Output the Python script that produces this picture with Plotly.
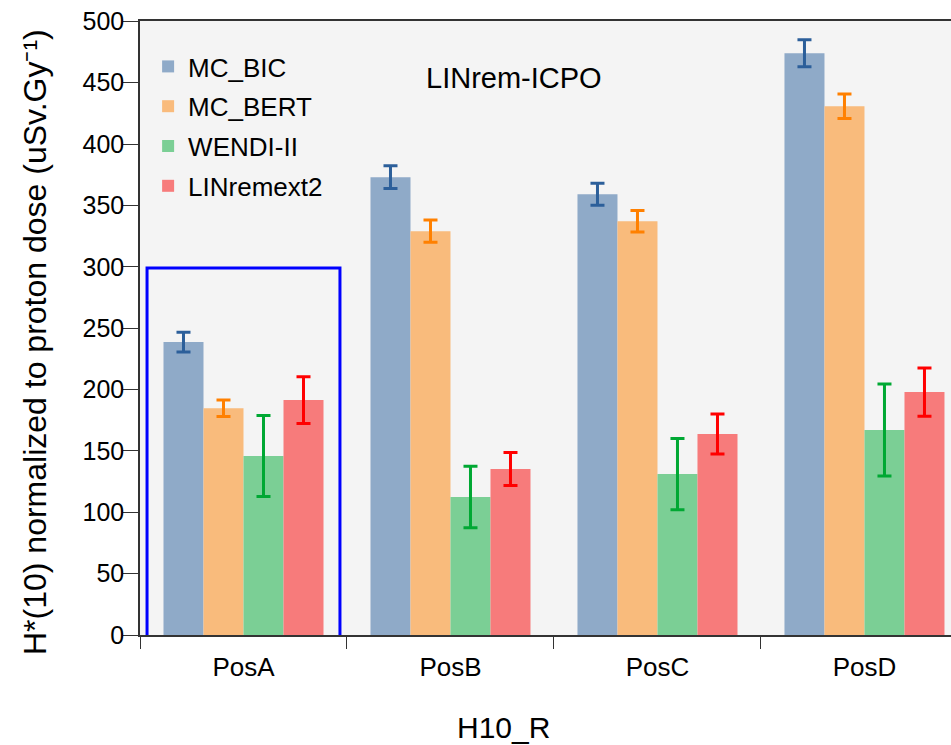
import plotly.graph_objects as go

categories = ["PosA", "PosB", "PosC", "PosD"]
series_names = ["MC_BIC", "MC_BERT", "WENDI-II", "LINremext2"]
mc_bic = [238.6, 373.0, 359.1, 474.0]
mc_bic_err = [8.0, 9.3, 9.0, 11.0]
mc_bert = [184.8, 329.0, 337.1, 430.8]
mc_bert_err = [6.7, 9.0, 8.8, 10.0]
wendi = [145.8, 112.4, 131.1, 167.0]
wendi_err = [33.0, 25.0, 29.0, 37.5]
linremext2 = [191.4, 135.2, 163.7, 197.9]
linremext2_err = [19.0, 13.5, 16.3, 19.7]
y_ticks = [0, 50, 100, 150, 200, 250, 300, 350, 400, 450, 500]

values = [mc_bic, mc_bert, wendi, linremext2]
errors = [mc_bic_err, mc_bert_err, wendi_err, linremext2_err]
bar_colors = ["#8FAAC8", "#F9BB7C", "#7BCF95", "#F77B7B"]
err_colors = ["#2C5F9A", "#FF8000", "#00A833", "#FF0000"]

FONT = "Liberation Sans, Arial, sans-serif"

PL, PR, PT, PB = 140, 951, 21, 635  # plot area in page pixels

fig = go.Figure()
for i, name in enumerate(series_names):
    fig.add_trace(go.Bar(
        x=categories, y=values[i], name=name,
        marker=dict(color=bar_colors[i], line=dict(width=0)),
        error_y=dict(type="data", array=errors[i], visible=True,
                     color=err_colors[i], thickness=3, width=7),
        legendgroup=name,
    ))

W = PR - PL
H = PB - PT
def px(xp):
    return (xp - PL) / W
def py(yp):
    return (PB - yp) / H

fig.update_layout(
    width=951, height=745,
    margin=dict(l=PL, r=951 - PR, t=PT, b=745 - PB),
    paper_bgcolor="white",
    plot_bgcolor="#F4F4F4",
    barmode="group",
    bargap=0.227,
    bargroupgap=0,
    font=dict(family=FONT, color="black", size=25),
    showlegend=True,
    legend=dict(x=0.01, y=py(43), xanchor="left", yanchor="top",
                bgcolor="rgba(0,0,0,0)", font=dict(size=26),
                tracegroupgap=3, traceorder="grouped"),
    xaxis=dict(range=[-0.5, 3.418], showgrid=False, showline=True,
               linecolor="#333333", linewidth=1.5, mirror=True,
               ticks="outside", tickson="boundaries", ticklen=12,
               tickcolor="#333333", tickfont=dict(size=26),
               ticklabelstandoff=8),
    yaxis=dict(range=[0, 500.2], showgrid=False, showline=True,
               linecolor="#333333", linewidth=1.5,
               ticks="outside", ticklen=15, tickcolor="#333333",
               tickvals=y_ticks,
               tickfont=dict(size=25), zeroline=False,
               ticklabelstandoff=-6, ticklabeloverflow="allow"),
    annotations=[
        dict(text="LINrem-ICPO", xref="paper", yref="paper", x=px(514), y=py(78),
             xanchor="center", yanchor="middle", showarrow=False,
             font=dict(size=29)),
        dict(text="H10_R", xref="paper", yref="paper", x=px(503), y=py(727),
             xanchor="center", yanchor="middle", showarrow=False,
             font=dict(size=30)),
        dict(text="H*(10) normalized to proton dose (uSv.Gy⁻¹)", xref="paper",
             yref="paper", x=px(35), y=py(342), xanchor="center",
             yanchor="middle", showarrow=False, textangle=-90,
             font=dict(size=32)),
    ],
    shapes=[dict(type="rect", xref="x", yref="y", x0=-0.466, x1=0.466,
                 y0=-61.9, y1=298.9, line=dict(color="#0000FF", width=3),
                 fillcolor="rgba(0,0,0,0)", layer="above")],
)

fig.write_html(
    "out.html",
    config={"displayModeBar": False},
    post_script="document.body.style.margin='0';document.body.style.overflow='hidden';",
)
